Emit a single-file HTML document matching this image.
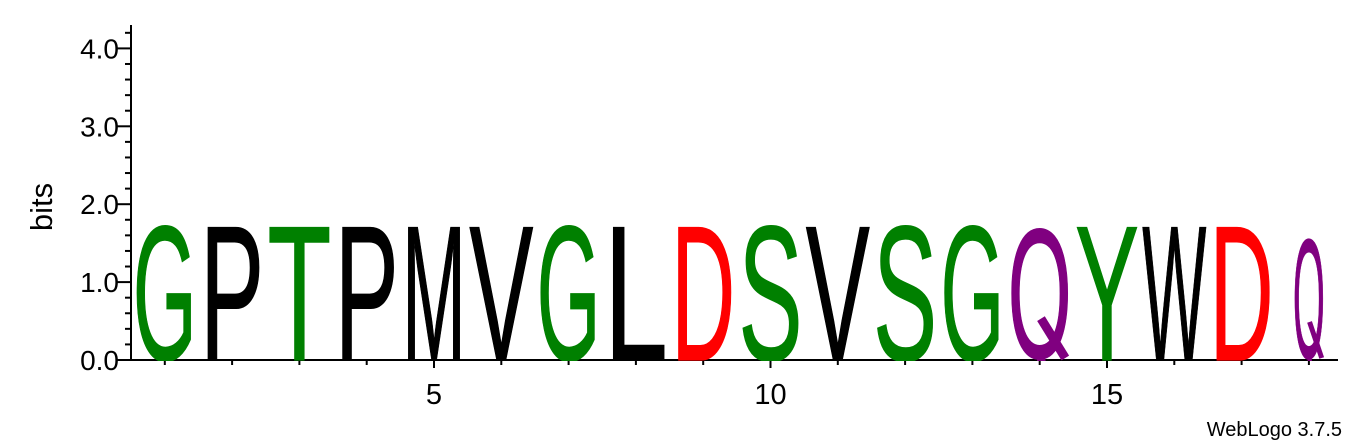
<!DOCTYPE html>
<html><head><meta charset="utf-8"><style>
html,body{margin:0;padding:0;background:#fff}
svg{display:block}
text{font-family:"Liberation Sans",Arial,sans-serif}
</style></head><body>
<svg id="logo" width="1366" height="444" viewBox="0 0 1366 444" xmlns="http://www.w3.org/2000/svg">
<defs><clipPath id="aboveBase"><rect x="0" y="0" width="1366" height="361"/></clipPath></defs>
<g id="axes"></g>
<g id="letters" clip-path="url(#aboveBase)"></g>
<text transform="translate(52,207) rotate(-90)" text-anchor="middle" font-size="31">bits</text>
<text x="1342" y="436" text-anchor="end" font-size="20">WebLogo 3.7.5</text>
</svg>
<script>
const residues = ["G","P","T","P","M","V","G","L","D","S","V","S","G","Q","Y","W","D","Q"];
const heights = [1.77,1.77,1.77,1.77,1.77,1.77,1.77,1.77,1.77,1.77,1.77,1.77,1.77,1.77,1.77,1.77,1.77,1.63];
const yTicks = ["0.0","1.0","2.0","3.0","4.0"];
const xTickLabels = [5,10,15];
const colorMap = {G:"#008000",S:"#008000",T:"#008000",Y:"#008000",C:"#008000",
  D:"#ff0000",E:"#ff0000",Q:"#800080",N:"#800080",K:"#0000ff",R:"#0000ff",H:"#0000ff"};

const NS="http://www.w3.org/2000/svg";
const base=360, bitPx=77.9, axisX=131, pos1=164.8, step=67.3;
const yScale=b=>base-b*bitPx;
const xScale=p=>pos1+(p-1)*step;
const axes=document.getElementById('axes'), lg=document.getElementById('letters');
function mk(tag,attrs,parent){const e=document.createElementNS(NS,tag);for(const k in attrs)e.setAttribute(k,attrs[k]);parent.appendChild(e);return e;}

let l=mk('line',{x1:axisX,y1:yScale(4.3),x2:axisX,y2:base,stroke:'#000','stroke-width':2},axes);


for(let i=0;i<=21;i++){
  const v=i*0.2, y=yScale(v), major=(i%5===0);
  const t=mk('line',{x1:axisX-(major?14:6),y1:y,x2:axisX,y2:y,stroke:'#000','stroke-width':2},axes);
  
  
}
yTicks.forEach(s=>{
  const t=mk('text',{x:axisX-12,y:yScale(parseFloat(s))+10,'text-anchor':'end','font-size':28},axes);
  t.textContent=s;
  
  
});
l=mk('line',{x1:axisX-14,y1:base,x2:1338,y2:base,stroke:'#000','stroke-width':2},axes);


for(let p=1;p<=residues.length;p++){
  const x=xScale(p);
  const t=mk('line',{x1:x,y1:base,x2:x,y2:base+(p%5===0?8:5),stroke:'#000','stroke-width':2},axes);
  
  
}
xTickLabels.forEach(p=>{
  const t=mk('text',{x:xScale(p),y:404,'text-anchor':'middle','font-size':29},axes);
  t.textContent=p;
  
  
});
residues.forEach((r,i)=>{
  const h=heights[i]*bitPx, cx=xScale(i+1);
  const w = (i===residues.length-1) ? 32 : 64;
  const isQ = r==='Q';
  const fs = isQ ? h/0.745 : h/0.716;
  const col = colorMap[r]||'#000';
  const t=mk('text',{x:cx-w/2,y:base-(isQ?fs*0.012:0),'font-size':fs,fill:col,stroke:col,'stroke-width':1.2,
    textLength:w,lengthAdjust:'spacingAndGlyphs'},lg);
  t.textContent=r;
  
  
  if(isQ){
    const tl=mk('line',{x1:cx+0.02*w,y1:base-0.3*h,x2:cx+0.4*w,y2:base-2,stroke:col,'stroke-width':Math.max(5,0.14*w)},lg);
    
    
  }
});
</script>
</body></html>
